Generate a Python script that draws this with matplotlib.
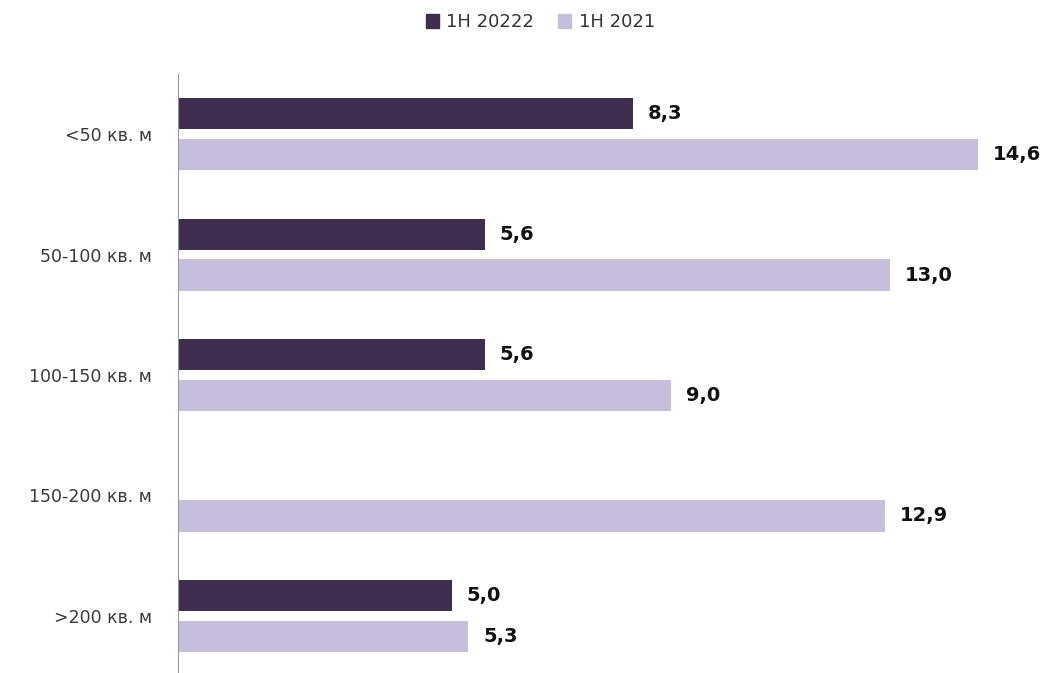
import numpy as np
import matplotlib.pyplot as plt
from matplotlib.patches import Patch

categories = ["<50 кв. м", "50-100 кв. м", "100-150 кв. м", "150-200 кв. м", ">200 кв. м"]
h1_2022 = [8.3, 5.6, 5.6, np.nan, 5.0]
h1_2021 = [14.6, 13.0, 9.0, 12.9, 5.3]
labels_2022 = ["8,3", "5,6", "5,6", "", "5,0"]
labels_2021 = ["14,6", "13,0", "9,0", "12,9", "5,3"]
series_names = ["1H 20222", "1H 2021"]

DARK = "#3f2e50"
LIGHT = "#c7bedb"

fig = plt.figure(figsize=(10.45, 6.73), dpi=100)
ax = fig.add_axes([0.1703, -0.0045, 0.8125, 0.8945])

y = np.arange(len(categories))
off = 0.17
hgt = 0.26
ax.barh(y - off, np.nan_to_num(h1_2022), height=hgt, color=DARK)
ax.barh(y + off, h1_2021, height=hgt, color=LIGHT)

for yi, v, t in zip(y, h1_2022, labels_2022):
    if t:
        ax.text(v + 0.27, yi - off, t, va="center", ha="left",
                fontsize=14, fontweight="bold", color="#111111")
for yi, v, t in zip(y, h1_2021, labels_2021):
    ax.text(v + 0.27, yi + off, t, va="center", ha="left",
            fontsize=14, fontweight="bold", color="#111111")

ax.set_xlim(0, 15.5)
ax.set_ylim(4.5, -0.5)
ax.set_yticks(y)
ax.set_yticklabels(categories, fontsize=12.5, color="#3a3a3a")
ax.tick_params(axis="y", length=0, pad=18.5)
ax.set_xticks([])
for s in ["top", "right", "bottom"]:
    ax.spines[s].set_visible(False)
ax.spines["left"].set_color("#999999")

handles = [Patch(color=DARK), Patch(color=LIGHT)]
fig.legend(handles, series_names, loc="center", bbox_to_anchor=(0.517, 0.967),
           ncol=2, frameon=False, fontsize=13, handlelength=0.75, handleheight=0.75,
           handletextpad=0.4, columnspacing=1.3, labelcolor="#333333")

fig.savefig("out.png", dpi=100)
